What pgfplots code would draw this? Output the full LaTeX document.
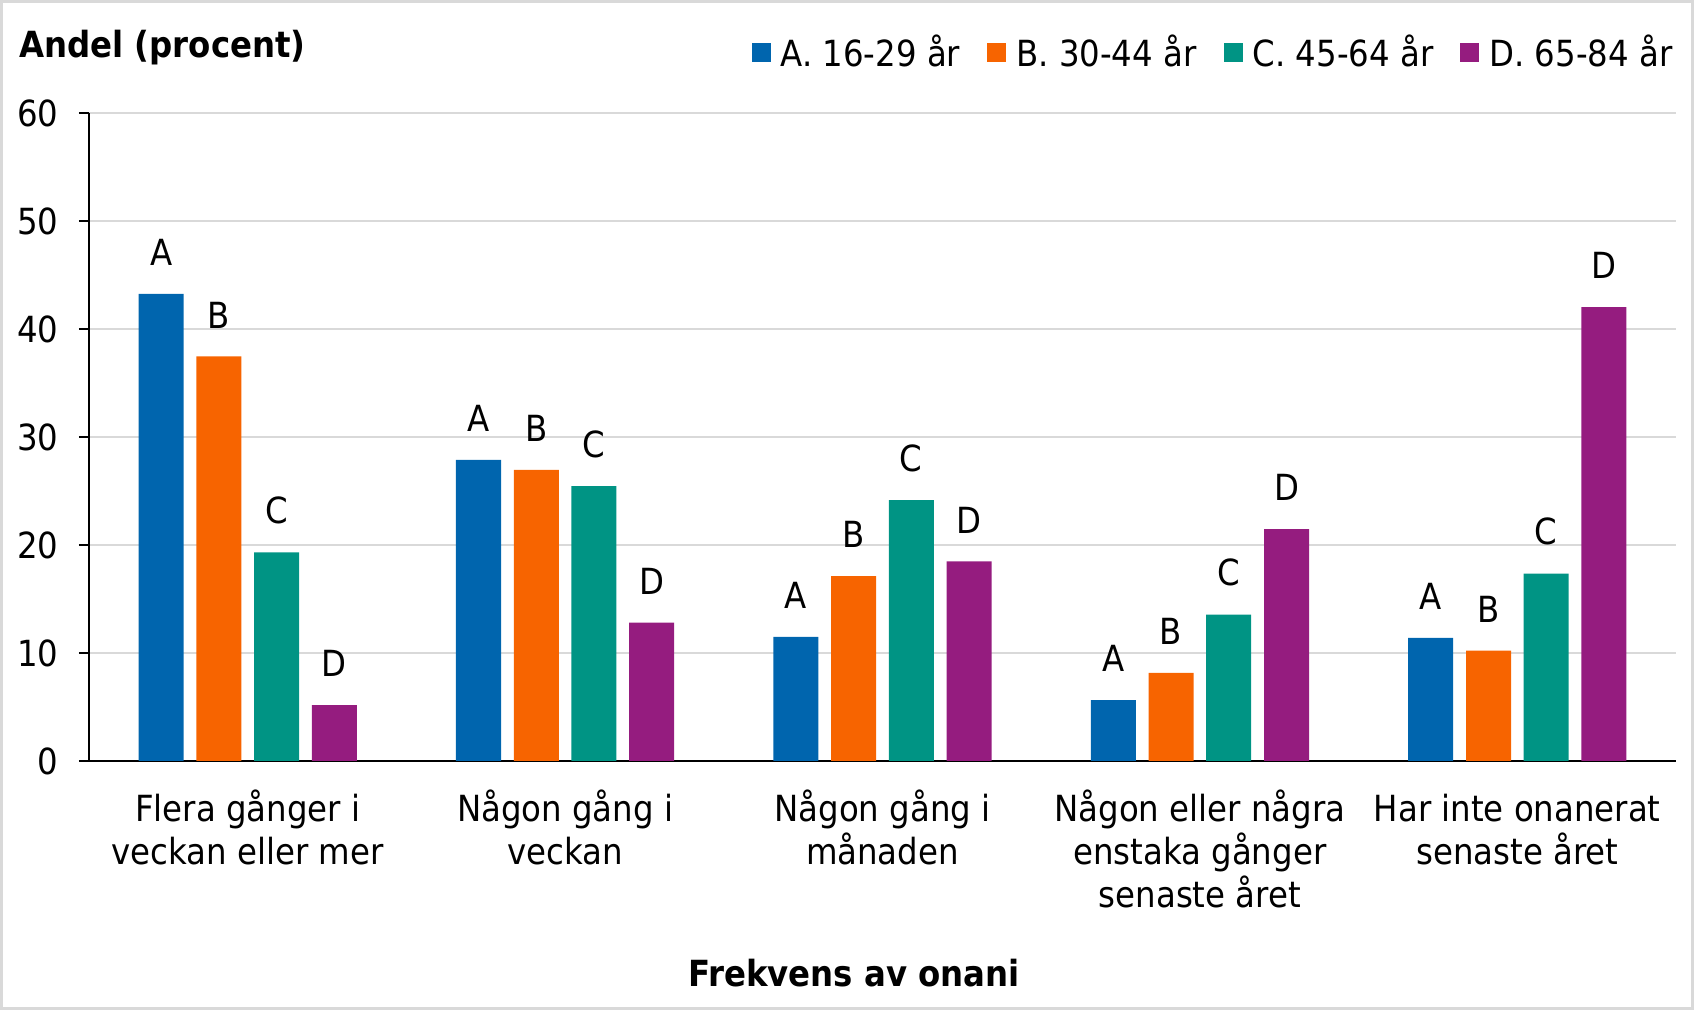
\documentclass[border=0pt]{standalone}
\usepackage{fontspec}
\setmainfont{DejaVu Sans Condensed}
\usepackage{pgfplots}
\pgfplotsset{compat=1.18}
\definecolor{cA}{HTML}{0065AE}
\definecolor{cB}{HTML}{F76400}
\definecolor{cC}{HTML}{009484}
\definecolor{cD}{HTML}{951C7F}
\definecolor{gridgray}{HTML}{D9D9D9}
\definecolor{framegray}{HTML}{D9D9D9}
\newcommand{\lblfont}{\fontsize{18}{21.5}\selectfont}
\newcommand{\fs}{\rule{0pt}{15.4pt}}
\begin{document}
\begin{tikzpicture}
\begin{axis}[
  at={(0,0)}, anchor=south west,
  scale only axis, width=793.5pt, height=324pt,
  xmin=0.5, xmax=5.5, ymin=0, ymax=60,
  ytick={0,10,20,30,40,50,60},
  xtick={1,2,3,4,5},
  xticklabels={{\fs Flera gånger i\\veckan eller mer},{\fs Någon gång i\\veckan},{\fs Någon gång i\\månaden},{\fs Någon eller några\\enstaka gånger\\senaste året},{\fs Har inte onanerat\\senaste året}},
  /pgf/number format/assume math mode=true,
  axis lines*=left,
  axis line style={black, line width=1.3pt},
  ymajorgrids, grid style={draw=gridgray, line width=1pt},
  xtick style={draw=none},
  ytick style={black, line width=1.3pt},
  tick align=outside, major tick length=5pt,
  tick label style={font=\lblfont},
  yticklabel style={anchor=east, inner sep=0pt, xshift=-10pt},
  xticklabel style={align=center, anchor=north, inner sep=0pt, yshift=-9.5pt},
  ybar, bar width=22.5pt,
  every node near coord/.append style={anchor=south, inner sep=0pt, yshift=14pt, font=\lblfont, text=black},
  legend columns=4,
  legend style={draw=none, fill=none, at={(0.998,1.0941)}, anchor=east, font=\lblfont, inner sep=0pt,
    nodes={inner sep=0pt},
    /tikz/every odd column/.append style={column sep=5pt},
    /tikz/every even column/.append style={column sep=13.5pt}},
  legend image code/.code={\fill[#1] (0pt,-4.75pt) rectangle (9.5pt,4.75pt);},
]
\addplot[fill=cA, draw=none, bar shift=-43.3pt, nodes near coords={A}] coordinates {(1,43.26) (2,27.88) (3,11.50) (4,5.64) (5,11.41)};
\addlegendentry{A. 16-29 år}
\addplot[fill=cB, draw=none, bar shift=-14.4pt, nodes near coords={B}] coordinates {(1,37.46) (2,26.95) (3,17.12) (4,8.16) (5,10.23)};
\addlegendentry{B. 30-44 år}
\addplot[fill=cC, draw=none, bar shift=14.4pt, nodes near coords={C}] coordinates {(1,19.32) (2,25.46) (3,24.16) (4,13.55) (5,17.36)};
\addlegendentry{C. 45-64 år}
\addplot[fill=cD, draw=none, bar shift=43.3pt, nodes near coords={D}] coordinates {(1,5.18) (2,12.81) (3,18.48) (4,21.46) (5,42.02)};
\addlegendentry{D. 65-84 år}
\end{axis}
\node[anchor=base west, inner sep=0pt, font=\bfseries\lblfont] at (-35pt,351.5pt) {Andel (procent)};
\node[anchor=base, inner sep=0pt, font=\bfseries\lblfont] at (382.5pt,-113pt) {Frekvens av onani};
\draw[draw=framegray, line width=1.5pt] (-43.75pt,-123.75pt) rectangle (801.75pt,379.75pt);
\pgfresetboundingbox
\path (-44.5pt,-124.5pt) rectangle (802.5pt,380.5pt);
\end{tikzpicture}
\end{document}
